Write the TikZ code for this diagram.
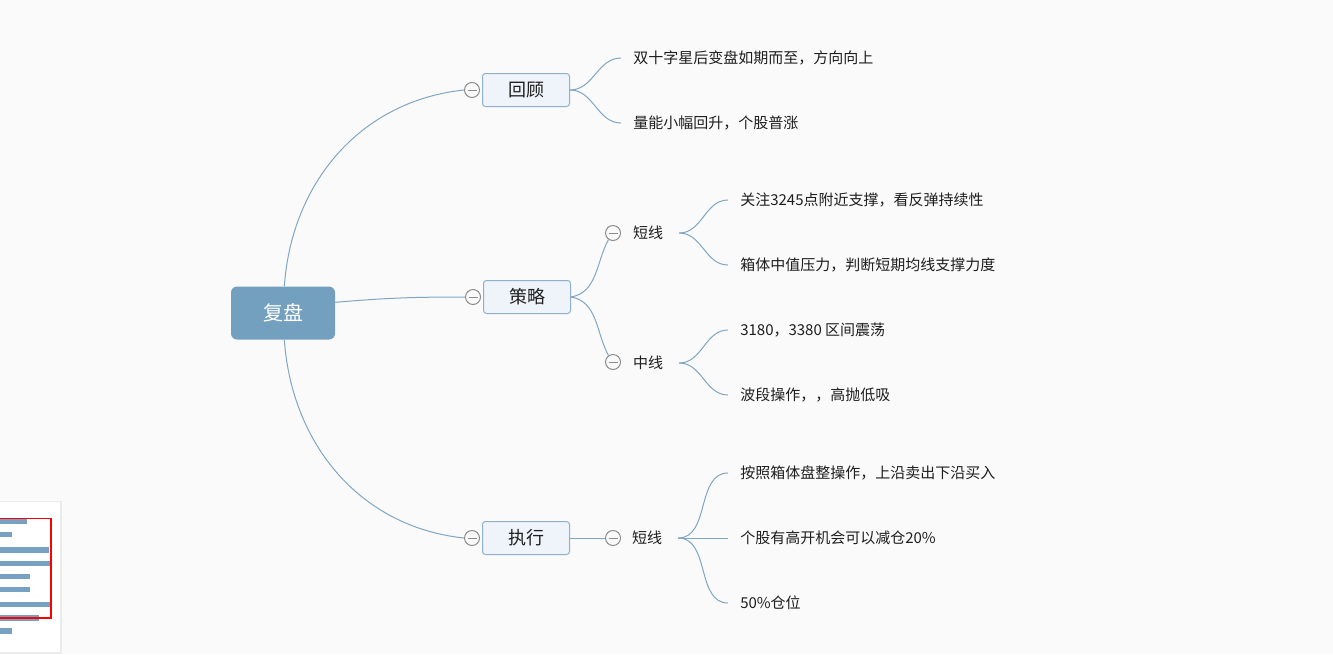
\documentclass[tikz,border=0pt]{standalone}
\usepackage{fontspec}
\setmainfont{Noto Sans CJK SC}
\usepackage{tikz}
\usetikzlibrary{positioning}

\definecolor{bgcol}{RGB}{250,250,250}
\definecolor{rootcol}{RGB}{116,160,192}
\definecolor{topicfill}{RGB}{238,244,249}
\definecolor{topicline}{RGB}{143,176,204}
\definecolor{linkcol}{RGB}{128,166,197}
\definecolor{foldcol}{RGB}{140,140,140}
\definecolor{txtcol}{RGB}{30,30,30}
\definecolor{mapbar}{RGB}{118,161,194}

\begin{document}
\begin{tikzpicture}[x=0.75pt,y=0.75pt,
  root/.style={fill=rootcol,text=white,rounded corners=4.5pt,minimum width=78pt,
    minimum height=39.75pt,font=\fontsize{15}{18}\selectfont},
  topic/.style={draw=topicline,fill=topicfill,rounded corners=2.25pt,line width=0.75pt,
    minimum width=65.25pt,minimum height=24.75pt,text=txtcol,font=\fontsize{13.5}{16}\selectfont},
  sub/.style={inner xsep=12pt,inner ysep=2pt,text=txtcol,font=\fontsize{11.25}{13.5}\selectfont},
  leaf/.style={anchor=west,inner xsep=9pt,inner ysep=2pt,text=txtcol,font=\fontsize{11.25}{13.5}\selectfont},
  fold/.style={circle,draw=foldcol,fill=bgcol,line width=0.75pt,minimum size=11.25pt,inner sep=0pt,
    path picture={\draw[foldcol,line width=0.75pt] ([xshift=2.25pt]path picture bounding box.west)
      -- ([xshift=-2.25pt]path picture bounding box.east);}},
  link/.style={draw=linkcol,line width=0.75pt}]
  \fill[bgcol] (0,0) rectangle (1333,-654);
  \useasboundingbox (0,0) rectangle (1333,-654);
  % main topics
  \node (fp) [root] at (283,-313) {复盘};
  \node (hg) [topic] at (526,-90) {回顾};
  \node (cl) [topic] at (527,-297) {策略};
  \node (zx) [topic] at (526,-538) {执行};
  \node (fhg) [fold, left=1.5pt of hg] {};
  \node (fcl) [fold, left=1.5pt of cl] {};
  \node (fzx) [fold, left=1.5pt of zx] {};
\path[link] ([xshift=1pt]fp.north) edge[out=86,in=186] (fhg.west)
      ([yshift=8pt]fp.east) edge[out=5,in=180] (fcl.west)
      ([xshift=1pt]fp.south) edge[out=-86,in=174] (fzx.west);
  %
  \node (hg1) [leaf] at (621,-58) {双十字星后变盘如期而至，方向向上};
  \node (hg2) [leaf] at (621,-123) {量能小幅回升，个股普涨};
\path[link] (hg.east) edge[out=0,in=180] (hg1.west)
      (hg.east) edge[out=0,in=180] (hg2.west);
  %
  \node (fdx) [fold] at (613,-233) {};
  \node (dx) [sub] at (648,-233) {短线};
  \node (fzhx) [fold] at (613,-362) {};
  \node (zhx) [sub] at (648,-363) {中线};
\path[link] (cl.east) edge[out=10,in=-118] (fdx.-125)
      (cl.east) edge[out=-10,in=118] (fzhx.125);
  \node (dx1) [leaf] at (728,-200) {关注3245点附近支撑，看反弹持续性};
  \node (dx2) [leaf] at (728,-265) {箱体中值压力，判断短期均线支撑力度};
  \node (zhx1) [leaf] at (728,-330) {3180，3380 区间震荡};
  \node (zhx2) [leaf] at (728,-395) {波段操作，，高抛低吸};
\path[link] (dx.east) edge[out=0,in=180] (dx1.west)
      (dx.east) edge[out=0,in=180] (dx2.west)
      (zhx.east) edge[out=0,in=180] (zhx1.west)
      (zhx.east) edge[out=0,in=180] (zhx2.west);
  %
  \node (fzd) [fold] at (613,-538) {};
  \node (zd) [sub] at (647,-538) {短线};
\path[link] (zx.east) edge (fzd.west);
  \node (zd1) [leaf] at (728,-473) {按照箱体盘整操作，上沿卖出下沿买入};
  \node (zd2) [leaf] at (728,-538) {个股有高开机会可以减仓20\%};
  \node (zd3) [leaf] at (728,-603) {50\%仓位};
\path[link] (zd.east) edge[out=0,in=180] (zd1.west)
      (zd.east) edge (zd2.west)
      (zd.east) edge[out=0,in=180] (zd3.west);
  % overview panel
  \fill[black!8] (0,-501) rectangle (61.5,-653.5);
  \fill[white] (0,-502) rectangle (60,-652);
  \foreach \y/\w in {521.5/27,534.5/12,550/49,563.5/51,576.5/30,589.5/30,604.5/51,618/39,631/12}
    \fill[mapbar] (0,-\y+2.6) rectangle (\w,-\y-2.6);
  \draw[red,line width=1pt] (-1,-518.5) rectangle (51,-618);
\end{tikzpicture}
\end{document}
